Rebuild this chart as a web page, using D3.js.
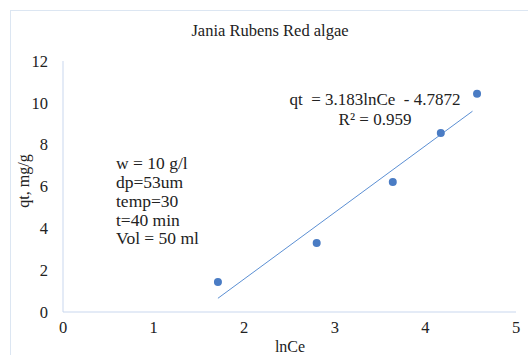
<!DOCTYPE html>
<html>
    <head>
        <title>Jania Rubens Red algae</title>
        <script src="https://d3js.org/d3.v7.min.js"></script>
        <style>
            body { margin: 0; background: white; }
            svg text { font-family: "Liberation Serif", "Times New Roman", serif; fill: #222; }
        </style>
    </head>
    <body>
        <svg id="myCanvas" width="528" height="355"></svg>

        <script>
            // data
            var lnCe = [1.71, 2.80, 3.64, 4.17, 4.57];
            var qt = [1.43, 3.30, 6.22, 8.56, 10.43];
            var xTicks = [0, 1, 2, 3, 4, 5];
            var yTicks = [0, 2, 4, 6, 8, 10, 12];
            var slope = 3.183, intercept = -4.7872;
            var notes = ["w = 10 g/l", "dp=53um", "temp=30", "t=40 min", "Vol = 50 ml"];

            var svg = d3.select("#myCanvas");

            // outer chart frame
            svg.append("rect")
                .attr("x", 10.5).attr("y", 10.5)
                .attr("width", 540).attr("height", 360)
                .attr("fill", "none")
                .attr("stroke", "#dce6f2");

            var x = d3.scaleLinear([0, 5], [63, 516]);
            var y = d3.scaleLinear([0, 12], [312, 61]);

            // axes
            svg.append("line")
                .attr("x1", x(0)).attr("x2", x(0))
                .attr("y1", y(0)).attr("y2", y(12))
                .attr("stroke", "#c9d7ee");
            svg.append("line")
                .attr("x1", x(0)).attr("x2", x(5))
                .attr("y1", y(0)).attr("y2", y(0))
                .attr("stroke", "#c9d7ee");

            svg.selectAll(".ytick")
                .data(yTicks)
                .enter().append("text")
                .attr("class", "ytick")
                .attr("x", 48)
                .attr("y", d => y(d))
                .attr("dy", "0.35em")
                .attr("text-anchor", "end")
                .attr("font-size", 16.5)
                .text(d => d);

            svg.selectAll(".xtick")
                .data(xTicks)
                .enter().append("text")
                .attr("class", "xtick")
                .attr("x", d => x(d))
                .attr("y", 327)
                .attr("dy", "0.35em")
                .attr("text-anchor", "middle")
                .attr("font-size", 16.5)
                .text(d => d);

            // trendline over the data range
            var xs = d3.extent(lnCe);
            svg.append("line")
                .attr("x1", x(xs[0])).attr("y1", y(slope * xs[0] + intercept))
                .attr("x2", x(xs[1] - 0.05)).attr("y2", y(slope * (xs[1] - 0.05) + intercept))
                .attr("stroke", "#5b8fd3")
                .attr("stroke-width", 1);

            svg.selectAll("circle")
                .data(lnCe)
                .enter().append("circle")
                .attr("cx", d => x(d))
                .attr("cy", (d, i) => y(qt[i]))
                .attr("r", 4)
                .attr("fill", "#4a7cc4");

            // title and axis labels
            svg.append("text")
                .attr("x", 270).attr("y", 30).attr("dy", "0.35em")
                .attr("text-anchor", "middle")
                .attr("font-size", 16.5)
                .text("Jania Rubens Red algae");

            svg.append("text")
                .attr("x", 290).attr("y", 346).attr("dy", "0.35em")
                .attr("text-anchor", "middle")
                .attr("font-size", 16)
                .text("lnCe");

            svg.append("text")
                .attr("transform", "translate(23,181) rotate(-90)")
                .attr("dy", "0.35em")
                .attr("text-anchor", "middle")
                .attr("font-size", 16)
                .text("qt, mg/g");

            // equation
            svg.append("text")
                .attr("x", 375).attr("y", 99).attr("dy", "0.35em")
                .attr("text-anchor", "middle")
                .attr("font-size", 17)
                .attr("xml:space", "preserve")
                .text("qt  = " + slope + "lnCe  - " + (-intercept));
            svg.append("text")
                .attr("x", 375).attr("y", 119).attr("dy", "0.35em")
                .attr("text-anchor", "middle")
                .attr("font-size", 17)
                .text("R\u00b2 = 0.959");

            // experiment notes
            svg.selectAll(".note")
                .data(notes)
                .enter().append("text")
                .attr("class", "note")
                .attr("x", 116)
                .attr("y", (d, i) => 163 + i * 18.8)
                .attr("dy", "0.35em")
                .attr("font-size", 17.5)
                .text(d => d);
        </script>
    </body>
</html>
